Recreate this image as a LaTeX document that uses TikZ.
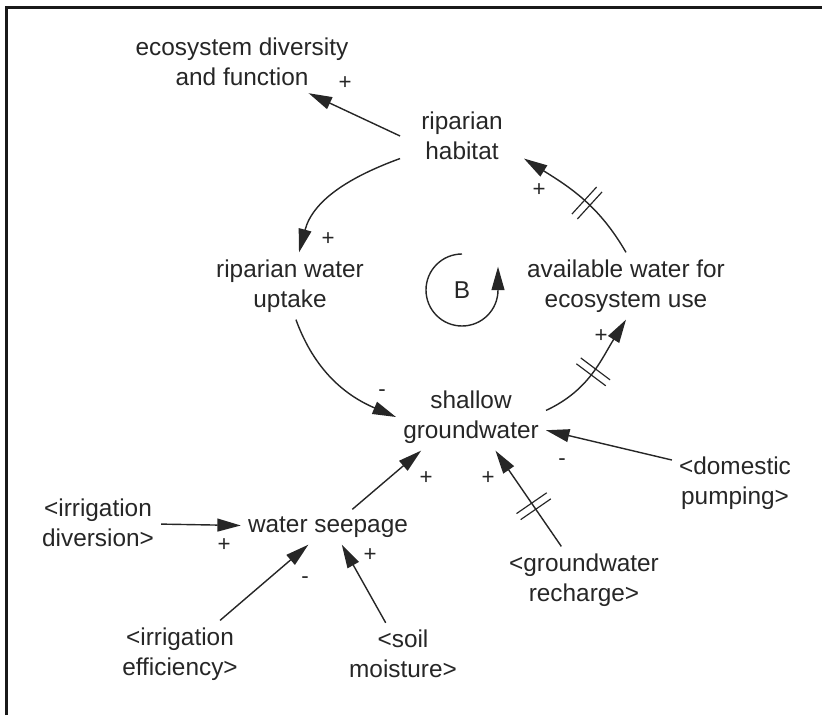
\documentclass[tikz,border=0pt]{standalone}
\usepackage{fontspec}
\setmainfont{Liberation Sans}
\usetikzlibrary{arrows.meta,decorations.markings}

\begin{document}
\begin{tikzpicture}[x=0.03cm, y=0.03cm,
  >={Triangle[length=20pt,width=11pt]},
  var/.style={align=center, inner sep=6pt, text=black!85, font=\fontsize{20.8}{25.6}\selectfont},
  sign/.style={inner sep=1pt, text=black!85, font=\fontsize{19}{21}\selectfont},
  link/.style={->, line width=1.2pt, draw=black!85},
  delaymark/.style={postaction={decorate, decoration={markings, mark=at position #1 with {\draw[-, line width=1pt] (-0.11cm,-0.55cm) -- (-0.11cm,0.55cm) (0.11cm,-0.55cm) -- (0.11cm,0.55cm);}}}}]

\useasboundingbox (0,0) rectangle (822,715);
\draw[line width=0.09cm, black!90] (6,0) -- (6,707.5) -- (822,707.5);

\node[var] (eco) at (242,653) {ecosystem diversity\\and function};
\node[var, inner xsep=18pt] (habitat) at (462,579) {riparian\\habitat};
\node[var] (uptake) at (290,429) {riparian water\\uptake};
\node[var] (avail) at (626,429) {available water for\\ecosystem use};
\node[var] (shallow) at (471,298) {shallow\\groundwater};
\node[var] (seepage) at (328,188) {water seepage};
\node[var] (diversion) at (98,192) {<irrigation\\diversion>};
\node[var] (efficiency) at (180,61) {<irrigation\\efficiency>};
\node[var] (soil) at (403,61) {<soil\\moisture>};
\node[var] (recharge) at (584,135) {<groundwater\\recharge>};
\node[var] (domestic) at (735,232) {<domestic\\pumping>};
\node[var] (loop) at (462,425) {B};

\draw[link] (habitat.west) -- (eco);
\draw[link] (habitat.200) to[out=200, in=75] (uptake.75);
\draw[link] (uptake.-80) to[out=-70, in=157] (shallow.west);
\draw[link, delaymark=0.5] (shallow.5) to[out=25, in=-122] (avail.south);
\draw[link, delaymark=0.45] (avail.north) to[out=120, in=-32] (habitat.-20);
\draw[link] (domestic.160) -- (shallow.-10);
\draw[link, delaymark=0.42] (recharge.124) -- (shallow.-54);
\draw[link] (seepage.36) -- (shallow.214);
\draw[link] (diversion) -- (seepage);
\draw[link] (efficiency.40) -- (seepage.222);
\draw[link] (soil.119) -- (seepage.-52);
\draw[link] ([yshift=1.08cm]loop.center) arc[start angle=90, end angle=360, radius=1.08cm] -- ++(0,0.7cm);

\node[sign] (s1) at (345,632) {+};
\node[sign] (s2) at (328,476) {+};
\node[sign] (s3) at (382,322) {-};
\node[sign] (s4) at (601,379) {+};
\node[sign] (s5) at (539,525) {+};
\node[sign] (s6) at (562,253) {-};
\node[sign] (s7) at (488,237) {+};
\node[sign] (s8) at (426,237) {+};
\node[sign] (s9) at (224,170) {+};
\node[sign] (s10) at (305,135) {-};
\node[sign] (s11) at (370,160) {+};

\end{tikzpicture}
\end{document}
